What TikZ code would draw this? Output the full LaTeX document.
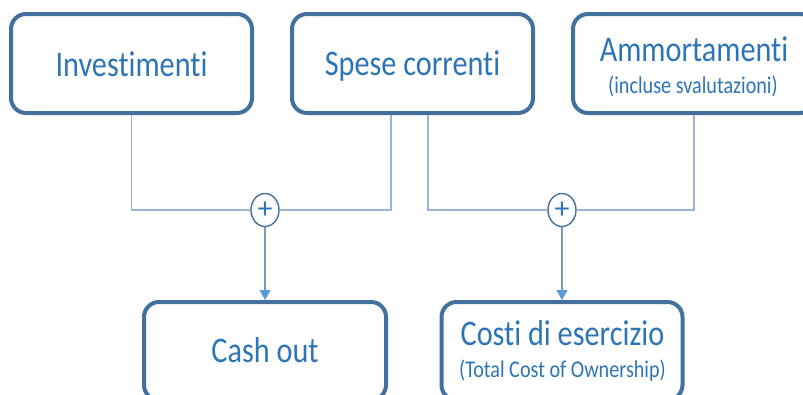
\documentclass[tikz,border=0pt]{standalone}
\usepackage{fontspec}
\setmainfont{Carlito}[Ligatures=NoCommon]
\usetikzlibrary{shapes.geometric,arrows.meta}
\definecolor{boxblue}{HTML}{41719C}
\definecolor{txtblue}{HTML}{2E75B6}
\definecolor{linkblue}{HTML}{9AB5D4}
\definecolor{arrowline}{HTML}{7F97B2}
\definecolor{tipblue}{HTML}{5B9BD5}
\begin{document}
\begin{tikzpicture}[x=1pt,y=-1pt,
 box/.style={draw=boxblue, line width=4pt, rounded corners=15pt, fill=white, inner sep=0pt, outer sep=2pt},
 big/.style={text=txtblue, font=\fontsize{36}{40}\selectfont, inner sep=0pt},
 small/.style={text=txtblue, font=\fontsize{24}{28}\selectfont, inner sep=0pt},
 sum/.style={ellipse, draw=boxblue, line width=1.4pt, fill=white, minimum width=28pt, minimum height=33pt, inner sep=0pt, text=txtblue, font=\fontsize{30}{30}\selectfont},
 link/.style={draw=linkblue, line width=1.3pt},
 flow/.style={draw=arrowline, line width=1.2pt, -{Triangle[length=10pt,width=11pt,color=tipblue]}}]
\clip (0,0) rectangle (803,394);
\node[box, minimum width=241pt, minimum height=99pt] (inv) at (131.5,63.5) {};
\node[box, minimum width=241pt, minimum height=99pt] (spe) at (412.5,63.5) {};
\node[box, minimum width=242pt, minimum height=99pt] (amm) at (694,63.5) {};
\node[box, minimum width=242pt, minimum height=98pt] (cash) at (265,351) {};
\node[box, minimum width=241pt, minimum height=98pt] (costi) at (562,351) {};
\node[big, anchor=base] (tinv) at (131.5,76) {\scalebox{0.84}[1]{Investimenti}};
\node[big, anchor=base] (tspe) at (412.5,75) {\scalebox{0.84}[1]{Spese correnti}};
\node[big, anchor=base] (tamm) at (694,61) {\scalebox{0.84}[1]{Ammortamenti}};
\node[small, anchor=base] (tamm2) at (693,93) {\scalebox{0.84}[1]{(incluse svalutazioni)}};
\node[big, anchor=base] (tcash) at (265,362) {\scalebox{0.84}[1]{Cash out}};
\node[big, anchor=base] (tcosti) at (562.5,345) {\scalebox{0.84}[1]{Costi di esercizio}};
\node[small, anchor=base] (tcosti2) at (562.5,377) {\scalebox{0.84}[1]{(Total Cost of Ownership)}};
\node[sum] (s1) at (265,210) {+};
\node[sum] (s2) at (562,210) {+};
\draw[link] (inv.south) |- (s1.west);
\draw[link] ([xshift=-21.5pt]spe.south) |- (s1.east);
\draw[link] ([xshift=15.5pt]spe.south) |- (s2.west);
\draw[link] (amm.south) |- (s2.east);
\draw[flow] (s1.south) -- (s1.south |- cash.north);
\draw[flow] (s2.south) -- (s2.south |- costi.north);
\end{tikzpicture}
\end{document}
